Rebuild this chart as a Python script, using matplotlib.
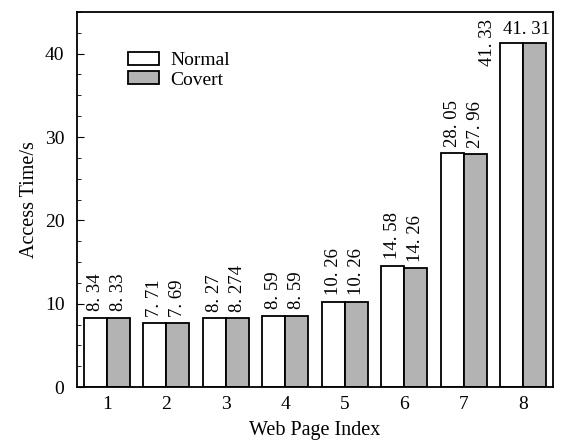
import matplotlib.pyplot as plt
import numpy as np
from matplotlib.ticker import MultipleLocator

plt.rcParams['font.family'] = ['Liberation Serif', 'DejaVu Serif']

pages = [1, 2, 3, 4, 5, 6, 7, 8]
normal = [8.34, 7.71, 8.27, 8.59, 10.26, 14.58, 28.05, 41.33]
covert = [8.33, 7.69, 8.274, 8.59, 10.26, 14.26, 27.96, 41.31]
normal_txt = ['8. 34', '7. 71', '8. 27', '8. 59', '10. 26', '14. 58', '28. 05', '41. 33']
covert_txt = ['8. 33', '7. 69', '8. 274', '8. 59', '10. 26', '14. 26', '27. 96', '41. 31']

fig = plt.figure(figsize=(5.62, 4.42), dpi=100)
ax = fig.add_axes([0.137, 0.124, 0.847, 0.849])

x = np.array(pages)
w = 0.39
ax.bar(x - w / 2, normal, w, color='white', edgecolor='black', linewidth=1.3, label='Normal')
ax.bar(x + w / 2, covert, w, color='#b3b3b3', edgecolor='black', linewidth=1.3, label='Covert')

# value labels
for i in range(len(x)):
    if i == 7:
        ax.text(x[i] - 0.6, normal[i], normal_txt[i], rotation=90, ha='center', va='center', fontsize=13.5)
        ax.text(x[i] + 0.06, 42.9, covert_txt[i], ha='center', va='center', fontsize=13.5)
    else:
        ax.text(x[i] - w / 2, normal[i] + 0.75, normal_txt[i], rotation=90, ha='center', va='bottom', fontsize=13.5)
        ax.text(x[i] + w / 2, covert[i] + 0.75, covert_txt[i], rotation=90, ha='center', va='bottom', fontsize=13.5)

ax.set_xlim(0.5, 8.5)
ax.set_ylim(0, 45)
ax.set_xticks(x)
ax.yaxis.set_major_locator(MultipleLocator(10))
ax.yaxis.set_minor_locator(MultipleLocator(2.5))
ax.tick_params(axis='both', which='both', direction='in', labelsize=14)
ax.tick_params(axis='y', which='major', length=5, pad=9)
ax.tick_params(axis='y', which='minor', length=3)
ax.tick_params(axis='x', length=0, pad=6)
for s in ax.spines.values():
    s.set_linewidth(1.3)

ax.set_xlabel('Web Page Index', fontsize=14.5, labelpad=6)
ax.set_ylabel('Access Time/s', fontsize=14.5, labelpad=4)

ax.legend(loc='upper left', bbox_to_anchor=(0.07, 0.94), frameon=False, fontsize=14,
          handlelength=1.6, handleheight=0.65, labelspacing=0.1, handletextpad=0.6)

fig.savefig('out.png', dpi=100)
